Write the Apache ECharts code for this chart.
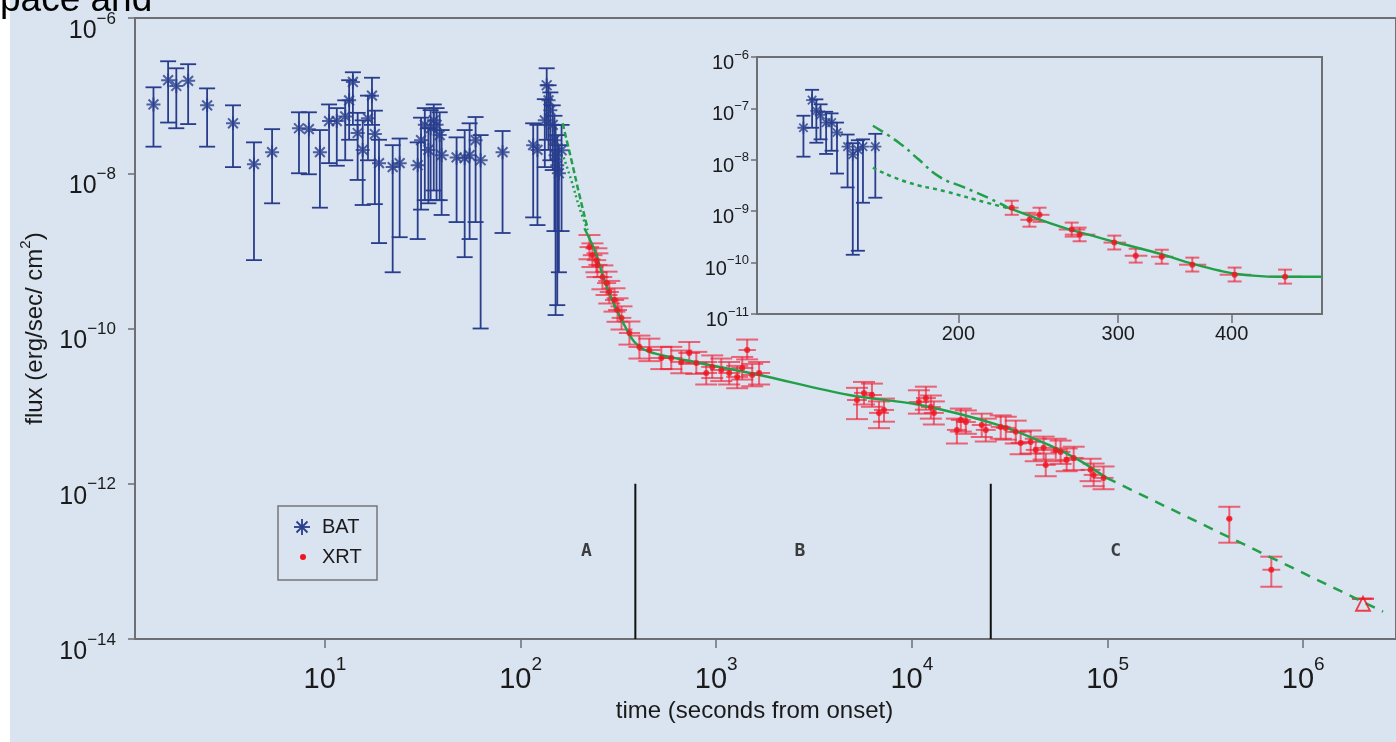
<!DOCTYPE html>
<html>
<head>
<meta charset="utf-8">
<script src="https://cdn.jsdelivr.net/npm/echarts@6/dist/echarts.min.js"></script>
<style>
  html, body { margin: 0; padding: 0; background: #fff; }
  #chart { width: 1396px; height: 742px; }
</style>
</head>
<body>
<div id="chart"></div>
<script>
// BAT points: [time, flux, fluxLow, fluxHigh]
const batPoints = [
  [1.33, 7.7e-8, 2.2e-8, 1.28e-7], [1.58, 1.58e-7, 4.5e-8, 2.77e-7], [1.74, 1.33e-7, 3.8e-8, 2.25e-7],
  [2.0, 1.55e-7, 4.3e-8, 2.54e-7], [2.5, 7.5e-8, 2.2e-8, 1.24e-7], [3.39, 4.4e-8, 1.2e-8, 7.5e-8],
  [4.34, 1.31e-8, 7.6e-10, 2.5e-8], [5.37, 1.87e-8, 4.1e-9, 3.7e-8], [7.37, 3.8e-8, 1.0e-8, 6.1e-8],
  [8.28, 3.7e-8, 9.7e-9, 6.1e-8], [9.43, 1.87e-8, 3.6e-9, 3.6e-8], [10.5, 4.7e-8, 1.35e-8, 7.7e-8],
  [11.5, 4.7e-8, 1.25e-8, 6.9e-8], [12.7, 5.4e-8, 1.47e-8, 8.7e-8], [13.3, 8.7e-8, 2.7e-8, 1.58e-7],
  [13.9, 1.5e-7, 4.2e-8, 2.0e-7], [14.7, 3.3e-8, 8.2e-9, 6.0e-8], [15.6, 2.0e-8, 3.9e-9, 4.8e-8],
  [16.6, 5.1e-8, 1.47e-8, 1.0e-7], [17.4, 1.0e-7, 4.2e-8, 1.7e-7], [18.0, 3.2e-8, 4.0e-9, 6.4e-8],
  [18.9, 1.35e-8, 1.26e-9, 2.7e-8], [22.2, 1.2e-8, 5.3e-10, 2.3e-8], [24.1, 1.35e-8, 1.5e-9, 2.8e-8],
  [29.8, 1.27e-8, 1.42e-9, 2.5e-8], [31.0, 2.67e-8, 3.4e-9, 5.2e-8], [32.4, 4.2e-8, 4.5e-9, 6.9e-8],
  [33.8, 2.0e-8, 4.1e-9, 3.8e-8], [34.7, 3.8e-8, 4.5e-9, 6.5e-8], [36.0, 4.8e-8, 6.0e-9, 7.7e-8],
  [37.2, 4.2e-8, 4.5e-9, 6.9e-8], [38.6, 3.1e-8, 4.5e-9, 6.1e-8], [39.5, 1.71e-8, 2.9e-9, 3.6e-8],
  [47.1, 1.6e-8, 2.35e-9, 2.9e-8], [51.8, 1.56e-8, 8.3e-10, 3.6e-8], [54.9, 1.71e-8, 1.42e-9, 4.4e-8],
  [58.9, 2.67e-8, 2.35e-9, 5.3e-8], [62.5, 1.47e-8, 1.0e-10, 3.1e-8], [80.9, 1.87e-8, 1.7e-9, 3.5e-8],
  [116, 2.3e-8, 2.7e-9, 4.4e-8], [122, 2.0e-8, 2.15e-9, 4.2e-8], [133, 4.8e-8, 1.2e-8, 9.0e-8],
  [136, 1.36e-7, 2.7e-8, 2.25e-7], [139, 8.7e-8, 2.0e-8, 1.36e-7], [142, 6.5e-8, 1.47e-8, 1.1e-7],
  [146, 4.2e-8, 1.1e-8, 7.5e-8], [149, 2.67e-8, 1.8e-9, 5.5e-8], [151, 1.71e-8, 1.49e-10, 4.2e-8],
  [154, 1.27e-8, 2.0e-10, 3.1e-8], [157, 1.0e-8, 5.3e-10, 2.3e-8], [162, 1.98e-8, 1.8e-9, 4.2e-8]
];

// XRT points: [time, timeLow, timeHigh, flux, fluxLow, fluxHigh]
const xrtPoints = [
  [225, 200, 252, 1.12e-9, 7.8e-10, 1.6e-9], [233, 208, 262, 8.8e-10, 6.2e-10, 1.25e-9],
  [244, 218, 274, 7.6e-10, 5.3e-10, 1.08e-9], [247, 222, 278, 6.6e-10, 4.6e-10, 9.3e-10],
  [262, 234, 294, 4.6e-10, 3.2e-10, 6.5e-10], [275, 246, 308, 3.85e-10, 2.7e-10, 5.4e-10],
  [284, 254, 318, 2.95e-10, 2.1e-10, 4.1e-10], [302, 270, 338, 2.33e-10, 1.65e-10, 3.3e-10],
  [313, 280, 350, 1.73e-10, 1.22e-10, 2.45e-10], [328, 292, 368, 1.37e-10, 9.7e-11, 1.93e-10],
  [360, 318, 408, 8.75e-11, 6.2e-11, 1.23e-10], [405, 356, 460, 5.78e-11, 4.1e-11, 8.1e-11],
  [455, 400, 518, 5.28e-11, 3.8e-11, 7.4e-11], [524, 460, 596, 4.17e-11, 3.0e-11, 5.8e-11],
  [589, 518, 670, 4.17e-11, 3.0e-11, 5.8e-11], [663, 582, 755, 3.71e-11, 2.65e-11, 5.2e-11],
  [728, 640, 828, 4.84e-11, 3.5e-11, 6.7e-11], [791, 695, 900, 3.6e-11, 2.6e-11, 5.0e-11],
  [889, 780, 1010, 2.67e-11, 1.9e-11, 3.7e-11], [954, 838, 1086, 3.2e-11, 2.3e-11, 4.5e-11],
  [1061, 932, 1208, 2.92e-11, 2.1e-11, 4.1e-11], [1165, 1024, 1326, 2.67e-11, 1.9e-11, 3.7e-11],
  [1280, 1124, 1456, 2.38e-11, 1.7e-11, 3.3e-11], [1358, 1194, 1546, 3.1e-11, 2.2e-11, 4.3e-11],
  [1439, 1300, 1594, 5.28e-11, 4.0e-11, 7.2e-11], [1527, 1342, 1738, 2.52e-11, 1.8e-11, 3.5e-11],
  [1656, 1456, 1884, 2.67e-11, 1.9e-11, 3.7e-11],
  [5240, 4660, 5890, 1.2e-11, 6.8e-12, 1.72e-11], [5690, 5060, 6400, 1.48e-11, 1.05e-11, 2.05e-11],
  [6250, 5560, 7030, 1.39e-11, 9.8e-12, 1.95e-11], [6790, 6040, 7630, 8.17e-12, 5.2e-12, 1.15e-11],
  [7200, 6400, 8100, 8.93e-12, 6.3e-12, 1.25e-11], [10860, 9660, 12200, 1.13e-11, 8.0e-12, 1.6e-11],
  [11790, 10490, 13260, 1.27e-11, 9.0e-12, 1.78e-11], [12500, 11120, 14060, 9.75e-12, 6.9e-12, 1.37e-11],
  [12950, 11520, 14560, 8.17e-12, 5.8e-12, 1.15e-11], [16980, 15100, 19090, 4.94e-12, 3.3e-12, 6.9e-12],
  [17780, 15810, 19990, 6.64e-12, 4.7e-12, 9.3e-12], [18870, 16780, 21220, 6.25e-12, 4.4e-12, 8.8e-12],
  [22750, 20230, 25580, 5.71e-12, 4.0e-12, 8.0e-12], [23860, 21220, 26830, 4.94e-12, 3.5e-12, 6.9e-12],
  [28440, 25290, 31980, 5.4e-12, 3.8e-12, 7.6e-12], [30190, 26850, 33950, 5.24e-12, 3.7e-12, 7.3e-12],
  [33940, 30180, 38160, 4.66e-12, 3.3e-12, 6.5e-12], [35970, 31990, 40450, 3.36e-12, 2.4e-12, 4.7e-12],
  [40450, 35970, 45490, 3.46e-12, 2.45e-12, 4.85e-12], [42950, 38200, 48300, 2.73e-12, 1.95e-12, 3.8e-12],
  [47110, 41900, 52980, 2.9e-12, 2.05e-12, 4.05e-12], [48310, 42960, 54330, 1.75e-12, 1.25e-12, 2.45e-12],
  [54320, 48300, 61080, 2.73e-12, 1.95e-12, 3.8e-12], [57540, 51170, 64700, 2.57e-12, 1.8e-12, 3.6e-12],
  [61800, 54960, 69500, 2.03e-12, 1.45e-12, 2.85e-12], [67120, 59690, 75480, 2.15e-12, 1.5e-12, 3.0e-12],
  [81900, 72830, 92100, 1.51e-12, 1.08e-12, 2.1e-12], [84900, 75500, 95470, 1.3e-12, 9.3e-13, 1.82e-12],
  [95400, 84840, 107300, 1.19e-12, 8.5e-13, 1.67e-12],
  [419000, 405000, 434000, 3.53e-13, 1.74e-13, 5.05e-13], [687000, 619000, 763000, 7.8e-14, 4.71e-14, 1.15e-13]
];
// late XRT point drawn as a triangle: [time, timeLow, timeHigh, flux]
const xrtLimit = [[2.02e6, 1.82e6, 2.24e6, 3.3e-14]];

// model curves (main panel): [time, flux]
const fitEarlyUpper = [[164, 4.4e-8], [182, 1.47e-8], [200, 5.2e-9], [220, 1.96e-9]];
const fitEarlyLower = [[166, 1.6e-8], [182, 8.0e-9], [200, 3.6e-9], [220, 1.85e-9]];
const fitMain = [[212, 1.96e-9], [239, 1.02e-9], [268, 4.2e-10], [302, 2.0e-10], [339, 1.11e-10],
  [382, 6.7e-11], [455, 5.0e-11], [819, 3.6e-11], [1656, 2.52e-11], [4770, 1.39e-11],
  [10860, 1.04e-11], [27800, 5.7e-12], [50000, 3.17e-12], [71100, 2.03e-12], [98800, 1.19e-12]];
const fitTail = [[98800, 1.19e-12], [2.56e6, 2.25e-14]];

// phases
const phaseBounds = [386, 25300];
const phaseBoundFlux = [1e-12, 1e-14];
const phaseNames = ['A', 'B', 'C'];
const phaseNameTimes = [217, 2680, 110000];
const phaseNameFlux = 1.33e-13;

// inset
const insetBat = [
  [135, 4.2e-8, 1.15e-8, 7.2e-8], [138, 1.45e-7, 4.2e-8, 2.3e-7], [139.5, 9.0e-8, 2.15e-8, 1.5e-7],
  [141, 7.5e-8, 2.5e-8, 1.2e-7], [143, 5.3e-8, 1.3e-8, 8.6e-8], [145, 5.3e-8, 1.5e-8, 8.0e-8],
  [147, 3.4e-8, 5.4e-9, 5.3e-8], [151, 1.8e-8, 2.9e-9, 3.1e-8], [153, 1.26e-8, 1.42e-10, 2.1e-8],
  [155, 1.57e-8, 1.7e-10, 2.4e-8], [157, 1.8e-8, 1.46e-9, 2.5e-8], [162, 1.8e-8, 1.83e-9, 3.2e-8]
];
const insetXrt = [
  [229, 225, 233, 1.17e-9, 8.5e-10, 1.6e-9], [239.5, 234, 245, 6.8e-10, 5.0e-10, 9.3e-10],
  [245.7, 240, 252, 8.5e-10, 6.2e-10, 1.17e-9], [266.6, 258, 276, 4.4e-10, 3.2e-10, 6.0e-10],
  [272, 262, 283, 3.5e-10, 2.6e-10, 4.8e-10], [297, 289, 306, 2.45e-10, 1.8e-10, 3.35e-10],
  [313.6, 305, 323, 1.36e-10, 1.0e-10, 1.86e-10], [335, 326, 345, 1.3e-10, 9.5e-11, 1.78e-10],
  [362, 350, 375, 9.1e-11, 6.7e-11, 1.25e-10], [403, 388, 420, 5.8e-11, 4.3e-11, 8.0e-11],
  [458, 440, 478, 5.3e-11, 3.9e-11, 7.3e-11]
];
const insetFitUpper = [[161, 4.6e-8], [172, 2.15e-8], [181, 1.0e-8], [190.5, 4.7e-9], [203, 2.9e-9], [218, 1.67e-9], [226, 1.22e-9]];
const insetFitLower = [[161, 7.0e-9], [175, 3.75e-9], [194, 2.4e-9], [215, 1.46e-9], [226, 1.17e-9]];
const insetFitSolid = [[226, 1.2e-9], [259, 5.0e-10], [297, 2.55e-10], [335, 1.45e-10], [362, 9.5e-11],
  [403, 6.1e-11], [452, 5.3e-11], [503, 5.3e-11]];

// ticks
const mainTimeTicks = [10, 100, 1000, 10000, 100000, 1000000];
const mainFluxTicks = [1e-14, 1e-12, 1e-10, 1e-8, 1e-6];
const insetTimeTicks = [200, 300, 400];
const insetFluxTicks = [1e-11, 1e-10, 1e-9, 1e-8, 1e-7, 1e-6];

const FONT = '"Liberation Sans Narrow", "Liberation Sans", Arial, sans-serif';
const BLUE = '#283d8c';
const RED = '#f0141e';
const RED_ERR = 'rgba(240, 30, 50, 0.65)';
const GREEN = '#22a049';
const AXIS = '#6d6f73';
const INK = '#1a1a1a';

const chart = echarts.init(document.getElementById('chart'));

// 10^n tick label
function powLabel(v) {
  const lg = Math.log10(v);
  const e = Math.round(lg);
  if (Math.abs(lg - e) > 0.02) return '';
  return '{b|10}{s|' + (e < 0 ? '\u2212' + (-e) : e) + '}';
}

// vertical error bar with caps (BAT style)
function batErr(capHalf) {
  return function (params, api) {
    const t = api.value(0);
    const hi = api.coord([t, api.value(3)]);
    const lo = api.coord([t, api.value(2)]);
    const style = { stroke: BLUE, lineWidth: 1.8 };
    return {
      type: 'group',
      children: [
        { type: 'line', shape: { x1: hi[0], y1: hi[1], x2: lo[0], y2: lo[1] }, style: style },
        { type: 'line', shape: { x1: hi[0] - capHalf, y1: hi[1], x2: hi[0] + capHalf, y2: hi[1] }, style: style },
        { type: 'line', shape: { x1: lo[0] - capHalf, y1: lo[1], x2: lo[0] + capHalf, y2: lo[1] }, style: style }
      ]
    };
  };
}

// XRT error bars: vertical with caps plus horizontal time bin
function xrtErr(capHalf) {
  return function (params, api) {
    const t = api.value(0);
    const f = api.value(3);
    const hi = api.coord([t, api.value(5)]);
    const lo = api.coord([t, api.value(4)]);
    const left = api.coord([api.value(1), f]);
    const right = api.coord([api.value(2), f]);
    const style = { stroke: RED_ERR, lineWidth: 2 };
    return {
      type: 'group',
      children: [
        { type: 'line', shape: { x1: hi[0], y1: hi[1], x2: lo[0], y2: lo[1] }, style: style },
        { type: 'line', shape: { x1: hi[0] - capHalf, y1: hi[1], x2: hi[0] + capHalf, y2: hi[1] }, style: style },
        { type: 'line', shape: { x1: lo[0] - capHalf, y1: lo[1], x2: lo[0] + capHalf, y2: lo[1] }, style: style },
        { type: 'line', shape: { x1: left[0], y1: left[1], x2: right[0], y2: right[1] }, style: style }
      ]
    };
  };
}

const asterisk = 'path://M6,0L6,12M0,6L12,6M1.8,1.8L10.2,10.2M1.8,10.2L10.2,1.8';
const legendStroke = { stroke: BLUE, lineWidth: 1.8 };

const option = {
  backgroundColor: '#dae3f0',
  animation: false,
  textStyle: { fontFamily: FONT },
  grid: [
    { left: 135, top: 18, right: -2, bottom: 103, show: true, borderColor: AXIS, borderWidth: 2 },
    { left: 757, top: 57, width: 565, height: 257, show: true, borderColor: AXIS, borderWidth: 2 }
  ],
  xAxis: [
    {
      type: 'log', gridIndex: 0, min: 1.07, max: 2.98e6,
      axisLine: { show: false }, splitLine: { show: false },
      axisTick: { length: 9, lineStyle: { color: AXIS, width: 1.5 }, customValues: mainTimeTicks },
      axisLabel: {
        customValues: mainTimeTicks, margin: 16, formatter: powLabel, color: INK,
        rich: {
          b: { fontSize: 29, fontFamily: FONT, color: INK, padding: [10, 0, 0, 0] },
          s: { fontSize: 19, fontFamily: FONT, color: INK, verticalAlign: 'top' }
        }
      },
      name: 'time (seconds from onset)', nameLocation: 'middle', nameGap: 60,
      nameTextStyle: { fontSize: 24, color: INK, fontFamily: FONT, padding: [0, 22, 0, 0] }
    },
    {
      type: 'log', gridIndex: 1, min: 120, max: 503,
      axisLine: { show: false }, splitLine: { show: false },
      axisTick: { length: 9, lineStyle: { color: AXIS, width: 1.5 }, customValues: insetTimeTicks },
      axisLabel: {
        customValues: insetTimeTicks, margin: 10, fontSize: 20, color: INK,
        formatter: function (v) { return insetTimeTicks.indexOf(Math.round(v)) >= 0 ? String(Math.round(v)) : ''; }
      }
    }
  ],
  yAxis: [
    {
      type: 'log', gridIndex: 0, min: 1e-14, max: 1e-6, interval: 2,
      axisLine: { show: false }, splitLine: { show: false },
      axisTick: { length: 7, lineStyle: { color: AXIS, width: 1.5 }, customValues: mainFluxTicks },
      axisLabel: {
        customValues: mainFluxTicks, margin: 19, formatter: powLabel, padding: [18, 0, 0, 0],
        rich: {
          b: { fontSize: 25, fontFamily: FONT, color: INK, padding: [8, 0, 0, 0] },
          s: { fontSize: 17, fontFamily: FONT, color: INK, verticalAlign: 'top' }
        }
      },
      name: '{n|flux (erg/sec/ cm}{s|2}{n|)}', nameLocation: 'middle', nameGap: 88, nameRotate: 90,
      nameTextStyle: {
        rich: {
          n: { fontSize: 24, fontFamily: FONT, color: INK, padding: [5, 0, 0, 0] },
          s: { fontSize: 15, fontFamily: FONT, color: INK, verticalAlign: 'top' }
        }
      }
    },
    {
      type: 'log', gridIndex: 1, min: 1e-11, max: 1e-6, interval: 1,
      axisLine: { show: false }, splitLine: { show: false },
      axisTick: { length: 6, lineStyle: { color: AXIS, width: 1.5 }, customValues: insetFluxTicks },
      axisLabel: {
        customValues: insetFluxTicks, margin: 8, formatter: powLabel, padding: [8, 0, 0, 0],
        rich: {
          b: { fontSize: 20, fontFamily: FONT, color: INK, padding: [5, 0, 0, 0] },
          s: { fontSize: 13, fontFamily: FONT, color: INK, verticalAlign: 'top' }
        }
      }
    }
  ],
  graphic: [
    { type: 'rect', shape: { x: 0, y: 0, width: 10, height: 742 }, style: { fill: '#fff' }, z: 100 },
    { type: 'text', x: 0, y: 1, z: 101,
      style: { text: 'pace and', font: '37px "Liberation Sans", Arial, sans-serif', fill: '#000', verticalAlign: 'middle' } },
    { type: 'rect', shape: { x: 278, y: 506, width: 99, height: 74 }, style: { fill: 'none', stroke: '#777', lineWidth: 1.5 }, z: 50 },
    { type: 'line', z: 51, shape: { x1: 302, y1: 519, x2: 302, y2: 535 }, style: legendStroke },
    { type: 'line', z: 51, shape: { x1: 294, y1: 527, x2: 310, y2: 527 }, style: legendStroke },
    { type: 'line', z: 51, shape: { x1: 296.5, y1: 521.5, x2: 307.5, y2: 532.5 }, style: legendStroke },
    { type: 'line', z: 51, shape: { x1: 296.5, y1: 532.5, x2: 307.5, y2: 521.5 }, style: legendStroke },
    { type: 'text', x: 322, y: 527, z: 51, style: { text: 'BAT', font: '20px ' + FONT, fill: INK, verticalAlign: 'middle' } },
    { type: 'circle', z: 51, shape: { cx: 303, cy: 557, r: 3 }, style: { fill: RED } },
    { type: 'text', x: 322, y: 557, z: 51, style: { text: 'XRT', font: '20px ' + FONT, fill: INK, verticalAlign: 'middle' } }
  ],
  series: [
    // main panel
    { name: 'batErr', type: 'custom', xAxisIndex: 0, yAxisIndex: 0, renderItem: batErr(8),
      encode: { x: 0, y: 1 }, data: batPoints, z: 2, silent: true },
    { name: 'BAT', type: 'scatter', xAxisIndex: 0, yAxisIndex: 0, symbol: asterisk, symbolSize: 14,
      itemStyle: { color: 'rgba(0,0,0,0)', borderColor: BLUE, borderWidth: 2 },
      data: batPoints.map(p => [p[0], p[1]]), z: 3 },
    { name: 'xrtErr', type: 'custom', xAxisIndex: 0, yAxisIndex: 0, renderItem: xrtErr(11),
      encode: { x: 0, y: 3 }, data: xrtPoints.concat(xrtLimit.map(p => [p[0], p[1], p[2], p[3], p[3], p[3]])), z: 2, silent: true },
    { name: 'fitEarlyUpper', type: 'line', xAxisIndex: 0, yAxisIndex: 0, data: fitEarlyUpper, smooth: true, showSymbol: false,
      lineStyle: { color: GREEN, width: 2.5, type: [6, 3] }, z: 3 },
    { name: 'fitEarlyLower', type: 'line', xAxisIndex: 0, yAxisIndex: 0, data: fitEarlyLower, smooth: true, showSymbol: false,
      lineStyle: { color: GREEN, width: 2.5, type: [2, 3] }, z: 3 },
    { name: 'fitMain', type: 'line', xAxisIndex: 0, yAxisIndex: 0, data: fitMain, smooth: 0.3, showSymbol: false,
      lineStyle: { color: GREEN, width: 2.5 }, z: 3 },
    { name: 'fitTail', type: 'line', xAxisIndex: 0, yAxisIndex: 0, data: fitTail, showSymbol: false,
      lineStyle: { color: GREEN, width: 2.5, type: [10, 8] }, z: 3 },
    { name: 'XRT', type: 'scatter', xAxisIndex: 0, yAxisIndex: 0, symbol: 'circle', symbolSize: 6,
      itemStyle: { color: RED }, data: xrtPoints.map(p => [p[0], p[3]]), z: 4 },
    { name: 'xrtLimit', type: 'scatter', xAxisIndex: 0, yAxisIndex: 0, symbol: 'triangle', symbolSize: 14,
      symbolOffset: [0, 5],
      itemStyle: { color: 'rgba(0,0,0,0)', borderColor: RED, borderWidth: 1.8 },
      data: xrtLimit.map(p => [p[0], p[3]]), z: 4 },
    { name: 'phases', type: 'custom', xAxisIndex: 0, yAxisIndex: 0,
      renderItem: function (params, api) {
        const a = api.coord([api.value(0), api.value(1)]);
        const b = api.coord([api.value(0), api.value(2)]);
        return { type: 'line', shape: { x1: a[0], y1: a[1], x2: b[0], y2: b[1] }, style: { stroke: '#111', lineWidth: 2 } };
      },
      data: phaseBounds.map(t => [t, phaseBoundFlux[0], phaseBoundFlux[1]]), z: 3, silent: true },
    { name: 'phaseNames', type: 'scatter', xAxisIndex: 0, yAxisIndex: 0, symbolSize: 1,
      itemStyle: { color: 'rgba(0,0,0,0)' },
      label: { show: true, position: 'inside', formatter: '{b}', fontSize: 18, fontWeight: 'bold',
        fontFamily: '"DejaVu Sans Mono", "Liberation Mono", monospace', color: '#111' },
      data: phaseNames.map((n, i) => ({ name: n, value: [phaseNameTimes[i], phaseNameFlux] })), z: 5 },

    // inset
    { name: 'insetBatErr', type: 'custom', xAxisIndex: 1, yAxisIndex: 1, renderItem: batErr(7),
      encode: { x: 0, y: 1 }, data: insetBat, z: 2, silent: true },
    { name: 'insetBat', type: 'scatter', xAxisIndex: 1, yAxisIndex: 1, symbol: asterisk, symbolSize: 12,
      itemStyle: { color: 'rgba(0,0,0,0)', borderColor: BLUE, borderWidth: 1.8 },
      data: insetBat.map(p => [p[0], p[1]]), z: 3 },
    { name: 'insetXrtErr', type: 'custom', xAxisIndex: 1, yAxisIndex: 1, renderItem: xrtErr(7),
      encode: { x: 0, y: 3 }, data: insetXrt, z: 2, silent: true },
    { name: 'insetFitUpper', type: 'line', xAxisIndex: 1, yAxisIndex: 1, data: insetFitUpper, smooth: true, showSymbol: false,
      lineStyle: { color: GREEN, width: 2.5, type: [12, 5, 3, 5] }, z: 3 },
    { name: 'insetFitLower', type: 'line', xAxisIndex: 1, yAxisIndex: 1, data: insetFitLower, smooth: true, showSymbol: false,
      lineStyle: { color: GREEN, width: 2.5, type: [4, 4] }, z: 3 },
    { name: 'insetFitSolid', type: 'line', xAxisIndex: 1, yAxisIndex: 1, data: insetFitSolid, smooth: 0.3, showSymbol: false,
      lineStyle: { color: GREEN, width: 2.5 }, z: 3 },
    { name: 'insetXrt', type: 'scatter', xAxisIndex: 1, yAxisIndex: 1, symbol: 'circle', symbolSize: 6,
      itemStyle: { color: RED }, data: insetXrt.map(p => [p[0], p[3]]), z: 4 }
  ]
};

chart.setOption(option);
</script>
</body>
</html>
